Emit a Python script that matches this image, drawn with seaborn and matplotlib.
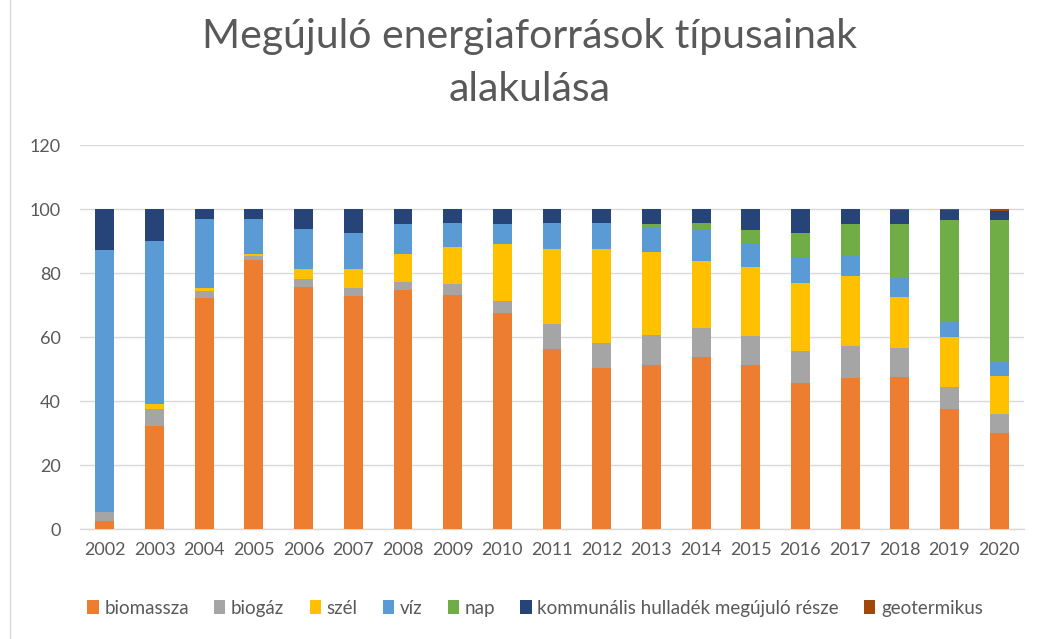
import numpy as np
import pandas as pd
import matplotlib
matplotlib.use("Agg")
import matplotlib.pyplot as plt
import seaborn as sns
from matplotlib.lines import Line2D
from matplotlib.patches import Patch

years = [str(y) for y in range(2002, 2021)]
biomassza = [2.6, 32.3, 72.3, 84.1, 75.7, 72.8, 74.7, 73.3, 67.4, 56.3, 50.4, 51.4, 53.9, 51.4, 45.7, 47.3, 47.6, 37.6, 30.1]
biogaz    = [2.6, 5.2, 2.1, 1.3, 2.4, 2.5, 2.6, 3.2, 3.9, 7.8, 7.8, 9.4, 9.0, 9.0, 10.1, 10.0, 9.0, 6.8, 5.8]
szel      = [0.2, 1.6, 0.9, 0.7, 3.2, 6.0, 8.8, 11.7, 17.8, 23.3, 29.2, 25.9, 21.0, 21.6, 21.2, 21.8, 16.0, 15.7, 11.9]
viz       = [81.8, 50.8, 21.6, 10.7, 12.5, 11.1, 9.2, 7.6, 6.2, 8.2, 8.2, 7.6, 9.7, 7.3, 7.9, 6.2, 5.9, 4.6, 4.5]
nap       = [0.0, 0.0, 0.0, 0.0, 0.0, 0.0, 0.0, 0.0, 0.0, 0.0, 0.0, 0.9, 2.1, 4.3, 7.5, 10.0, 16.7, 31.9, 44.3]
kommunalis = [12.8, 10.1, 3.1, 3.2, 6.2, 7.6, 4.7, 4.2, 4.7, 4.4, 4.4, 4.8, 4.3, 6.4, 7.6, 4.7, 4.5, 3.1, 2.9]
geotermikus = [0.0, 0.0, 0.0, 0.0, 0.0, 0.0, 0.0, 0.0, 0.0, 0.0, 0.0, 0.0, 0.0, 0.0, 0.0, 0.0, 0.3, 0.3, 0.5]

series_names = ["biomassza", "biogáz", "szél", "víz", "nap",
                "kommunális hulladék megújuló része", "geotermikus"]
series_vals = [biomassza, biogaz, szel, viz, nap, kommunalis, geotermikus]
colors = ["#ED7D31", "#A5A5A5", "#FFC000", "#5B9BD5", "#70AD47", "#264478", "#9E480E"]

sns.set_theme(style="white")
plt.rcParams['font.family'] = ['Lato', 'DejaVu Sans']

fig = plt.figure(figsize=(10.39, 6.39), dpi=100)
ax = fig.add_axes([0.077, 0.172, 0.9086, 0.601])

cum = np.cumsum(np.array(series_vals), axis=0)
# draw from top cumulative to bottom so each layer overlays
for i in range(len(series_names) - 1, -1, -1):
    df = pd.DataFrame({"year": years, "value": cum[i]})
    sns.barplot(data=df, x="year", y="value", color=colors[i], width=0.38,
                linewidth=0, saturation=1, ax=ax, zorder=3)

ax.set_xlim(-0.5, 18.5)
ax.set_ylim(0, 120)
ax.set_yticks(range(0, 121, 20))
ax.set_xlabel("")
ax.set_ylabel("")
ax.grid(axis="y", color="#D9D9D9", linewidth=1, zorder=0)
ax.set_axisbelow(True)
for s in ["top", "right", "left"]:
    ax.spines[s].set_visible(False)
ax.spines["bottom"].set_color("#D9D9D9")
ax.spines["bottom"].set_linewidth(1)
ax.tick_params(axis="both", length=0, labelsize=13, colors="#595959")
ax.tick_params(axis="x", pad=9)
ax.tick_params(axis="y", pad=14)

fig.text(0.51, 0.972, "Megújuló energiaforrások típusainak\nalakulása",
         ha="center", va="top", fontsize=29.5, color="#595959",
         linespacing=1.55)

handles = [Patch(facecolor=c, edgecolor="none") for c in colors]
fig.legend(handles, series_names, loc="center", bbox_to_anchor=(0.515, 0.048),
           ncol=7, frameon=False, fontsize=13.5, labelcolor="#595959",
           handlelength=0.6, handleheight=0.8, handletextpad=0.3,
           columnspacing=1.35)

fig.add_artist(Line2D([10 / 1039, 10 / 1039], [0, 1], transform=fig.transFigure,
                      color="#D9D9D9", linewidth=1))

fig.savefig("out.png", dpi=100)
